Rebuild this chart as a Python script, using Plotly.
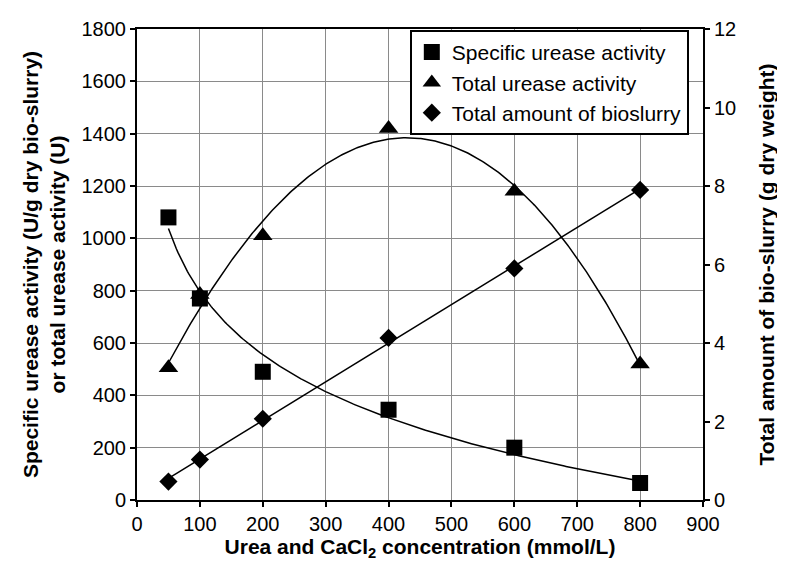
import numpy as np
import plotly.graph_objects as go

conc = [50, 100, 200, 400, 600, 800]
specific_activity = [1080, 770, 490, 345, 200, 65]
total_activity = [505, 785, 1010, 1420, 1180, 520]
bioslurry = [0.47, 1.03, 2.07, 4.13, 5.9, 7.9]

x_arr = np.array(conc, dtype=float)
xs = np.linspace(min(conc), max(conc), 300)

# trendlines fitted to the data (logarithmic, cubic polynomial, linear)
k, c0 = np.polyfit(np.log(x_arr), np.array(specific_activity, dtype=float), 1)
spec_fit = c0 + k * np.log(xs)
tot_fit = np.polyval(np.polyfit(x_arr, np.array(total_activity, dtype=float), 3), xs)
bio_fit = np.polyval(np.polyfit(x_arr, np.array(bioslurry, dtype=float), 1), xs)

FONT = "Liberation Sans, Arial, sans-serif"
line_style = dict(color="black", width=1.5)

fig = go.Figure()
fig.add_trace(go.Scatter(x=xs, y=spec_fit, mode="lines", line=line_style, showlegend=False, hoverinfo="skip"))
fig.add_trace(go.Scatter(x=xs, y=tot_fit, mode="lines", line=line_style, showlegend=False, hoverinfo="skip"))
fig.add_trace(go.Scatter(x=xs, y=bio_fit, mode="lines", line=line_style, showlegend=False, hoverinfo="skip", yaxis="y2"))

fig.add_trace(go.Scatter(x=conc, y=specific_activity, mode="markers", name="Specific urease activity",
                         marker=dict(symbol="square", size=16, color="black")))
fig.add_trace(go.Scatter(x=conc, y=total_activity, mode="markers", name="Total urease activity",
                         marker=dict(symbol="triangle-up", size=17, color="black")))
fig.add_trace(go.Scatter(x=conc, y=bioslurry, mode="markers", name="Total amount of bioslurry",
                         marker=dict(symbol="diamond", size=14, color="black"), yaxis="y2"))

TICKF = dict(size=20, family=FONT, color="black")
TITLEF = dict(size=21, family=FONT, color="black")

fig.update_layout(
    width=777, height=556,
    margin=dict(l=129, r=82, t=10, b=64),
    paper_bgcolor="white", plot_bgcolor="white",
    font=dict(family=FONT, size=20, color="black"),
    showlegend=True,
    legend=dict(x=0.482, y=0.998, xanchor="left", yanchor="top",
                bgcolor="white", bordercolor="black", borderwidth=2,
                font=dict(size=21, family=FONT), tracegroupgap=0, itemwidth=30),
    xaxis=dict(range=[0, 900], dtick=100, tick0=0, tickfont=TICKF,
               showgrid=True, gridcolor="#8a8a8a", gridwidth=1,
               showline=True, linecolor="black", linewidth=2, mirror=True,
               ticks="outside", ticklen=5, tickwidth=2, tickcolor="black",
               zeroline=False,
               title=dict(text="<b>Urea and CaCl<sub>2</sub> concentration (mmol/L)</b>",
                          font=TITLEF, standoff=4)),
    yaxis=dict(range=[0, 1800], dtick=200, tick0=0, tickfont=TICKF,
               showgrid=True, gridcolor="#8a8a8a", gridwidth=1,
               showline=True, linecolor="black", linewidth=2,
               ticks="outside", ticklen=5, tickwidth=2, tickcolor="black",
               zeroline=False,
               title=dict(text="<b>Specific urease activity (U/g dry bio-slurry)<br>or total urease activity (U)</b>",
                          font=TITLEF, standoff=10)),
    yaxis2=dict(range=[0, 12], dtick=2, tick0=0, overlaying="y", side="right", tickfont=TICKF,
                showgrid=False, showline=True, linecolor="black", linewidth=2,
                ticks="outside", ticklen=5, tickwidth=2, tickcolor="black",
                zeroline=False,
                title=dict(text="<b>Total amount of bio-slurry (g dry weight)</b>",
                           font=TITLEF, standoff=24)),
)

fig.write_html("out.html")
